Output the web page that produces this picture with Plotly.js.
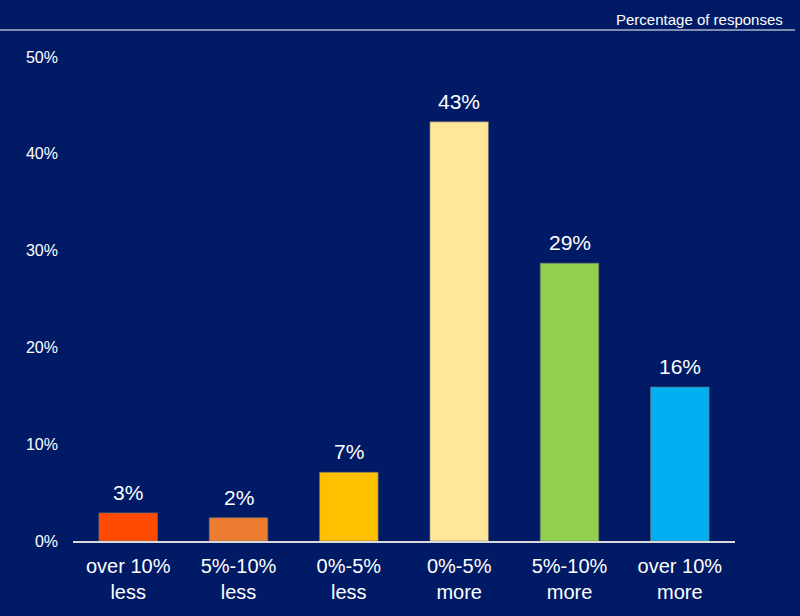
<!DOCTYPE html>
<html>
<head>
<meta charset="utf-8">
<script src="https://cdn.plot.ly/plotly-3.0.1.min.js"></script>
<style>html,body{margin:0;padding:0;background:#001A66;}</style>
</head>
<body>
<div id="chart" style="width:800px;height:616px;"></div>
<script>
const categories = ["over 10%<br>less", "5%-10%<br>less", "0%-5%<br>less", "0%-5%<br>more", "5%-10%<br>more", "over 10%<br>more"];
const values = [2.9, 2.4, 7.1, 43.3, 28.7, 15.9];
const labels = ["3%", "2%", "7%", "43%", "29%", "16%"];
const colors = ["#FF4A00", "#ED7D31", "#FFC000", "#FFE699", "#92D050", "#00B0F0"];
const yTicks = [0, 10, 20, 30, 40, 50];
const yTickText = ["0%", "10%", "20%", "30%", "40%", "50%"];

const trace = {
  type: "bar",
  x: categories,
  y: values,
  marker: {color: colors, line: {color: "rgba(120,120,120,0.6)", width: 1}},
  hoverinfo: "none"
};

const annotations = categories.map((c, i) => ({
  x: c, y: values[i], xref: "x", yref: "y",
  text: labels[i], showarrow: false, yanchor: "bottom", yshift: 7,
  font: {family: "Liberation Sans, Arial, sans-serif", size: 21, color: "#FFFFFF"}
}));
annotations.push({
  xref: "paper", yref: "paper", x: 1.075, y: 1.0, xanchor: "right", yanchor: "bottom",
  yshift: 27, text: "Percentage of responses", showarrow: false,
  font: {family: "Liberation Sans, Arial, sans-serif", size: 15, color: "#FFFFFF"}
});

const layout = {
  width: 800, height: 616,
  paper_bgcolor: "#001A66", plot_bgcolor: "#001A66",
  margin: {l: 73, r: 65, t: 57, b: 75},
  showlegend: false,
  bargap: 0.47,
  xaxis: {
    showgrid: false, zeroline: false, showline: true, linecolor: "#D9D9D9", linewidth: 1.5,
    ticks: "", tickfont: {family: "Liberation Sans, Arial, sans-serif", size: 20, color: "#FFFFFF"},
    ticklabelstandoff: 6
  },
  yaxis: {
    range: [0, 50], tickvals: yTicks, ticktext: yTickText,
    showgrid: false, zeroline: false, showline: false, ticks: "",
    tickfont: {family: "Liberation Sans, Arial, sans-serif", size: 16, color: "#FFFFFF"},
    ticklabelstandoff: 14
  },
  shapes: [{
    type: "line", xref: "paper", yref: "paper",
    x0: -73/662, x1: 795/662 - 73/662, y0: 1 + 27/484, y1: 1 + 27/484,
    line: {color: "#FFFFFF", width: 1}
  }],
  annotations: annotations
};

Plotly.newPlot("chart", [trace], layout, {displayModeBar: false, staticPlot: true});
</script>
</body>
</html>
